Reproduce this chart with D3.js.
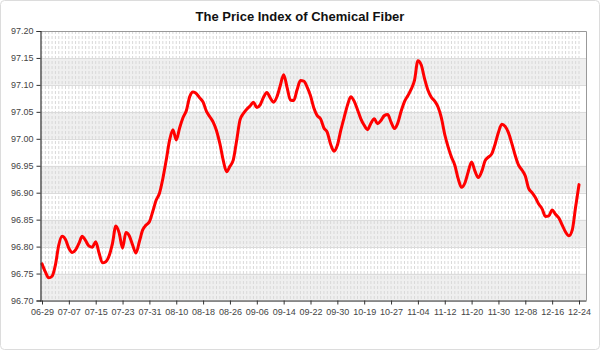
<!DOCTYPE html>
<html>
<head>
<meta charset="utf-8">
<script src="https://cdn.jsdelivr.net/npm/d3@7"></script>
<style>
    body { margin: 0; background: #fff; }
    svg { display: block; font-family: "Liberation Sans", Arial, sans-serif; }
</style>
</head>
<body>
<div id="chart"></div>
<script>
// daily index values, one per trading day
const values = [
    96.768, 96.753, 96.742, 96.745, 96.766, 96.803, 96.819, 96.813, 96.797, 96.789,
    96.794, 96.806, 96.819, 96.811, 96.801, 96.799, 96.809, 96.788, 96.770, 96.772,
    96.783, 96.806, 96.838, 96.825, 96.797, 96.826, 96.820, 96.803, 96.788, 96.809,
    96.831, 96.840, 96.846, 96.865, 96.886, 96.899, 96.926, 96.960, 96.997, 97.017,
    96.998, 97.020, 97.039, 97.052, 97.078, 97.087, 97.084, 97.076, 97.068, 97.051,
    97.041, 97.031, 97.015, 96.991, 96.960, 96.939, 96.949, 96.961, 96.997, 97.035,
    97.047, 97.055, 97.061, 97.068, 97.058, 97.063, 97.077, 97.086, 97.076, 97.068,
    97.078, 97.099, 97.119, 97.096, 97.072, 97.071, 97.091, 97.108, 97.107, 97.096,
    97.080, 97.057, 97.043, 97.037, 97.020, 97.012, 96.990, 96.977, 96.988, 97.015,
    97.039, 97.062, 97.078, 97.070, 97.054, 97.037, 97.025, 97.017, 97.029, 97.037,
    97.028, 97.034, 97.043, 97.045, 97.031, 97.019, 97.029, 97.051, 97.069, 97.080,
    97.092, 97.109, 97.145, 97.137, 97.111, 97.090, 97.077, 97.070, 97.059, 97.039,
    97.008, 96.985, 96.966, 96.951, 96.926, 96.910, 96.918, 96.939, 96.957, 96.940,
    96.928, 96.939, 96.959, 96.966, 96.972, 96.990, 97.012, 97.027, 97.023, 97.011,
    96.991, 96.969, 96.951, 96.942, 96.931, 96.908, 96.900, 96.891, 96.879, 96.870,
    96.856, 96.857, 96.868, 96.860, 96.853, 96.840, 96.827, 96.820, 96.831, 96.874,
    96.915
];

// labelled dates, one every 8 points
const tickLabels = [
    "06-29", "07-07", "07-15", "07-23", "07-31", "08-10", "08-18", "08-26", "09-06", "09-14",
    "09-22", "09-30", "10-19", "10-27", "11-04", "11-12", "11-20", "11-30", "12-08", "12-16", "12-24"
];
const tickStep = 8;

const yTicks = [96.70, 96.75, 96.80, 96.85, 96.90, 96.95, 97.00, 97.05, 97.10, 97.15, 97.20];

const width = 600;
const height = 350;
const plot = { left: 40, right: 586, top: 31, bottom: 300.5 };

const svg = d3.select("#chart")
    .append("svg")
    .attr("width", width)
    .attr("height", height);

// outer frame
svg.append("rect")
    .attr("x", 0.5).attr("y", 0.5)
    .attr("width", width - 1).attr("height", height - 1)
    .attr("rx", 4)
    .attr("fill", "#fff")
    .attr("stroke", "#dcdcdc");

const x = d3.scaleLinear()
    .domain([0, values.length - 1])
    .range([42, 579]);

const y = d3.scaleLinear()
    .domain([96.70, 97.20])
    .range([plot.bottom, plot.top]);

// alternating bands
const bands = yTicks.slice(0, -1).filter((d, i) => i % 2 === 0);
svg.append("g")
    .selectAll("rect")
    .data(bands)
    .enter()
    .append("rect")
    .attr("x", plot.left)
    .attr("width", plot.right - plot.left)
    .attr("y", d => y(d + 0.05))
    .attr("height", d => y(d) - y(d + 0.05))
    .attr("fill", "#efefef");

// horizontal grid
svg.append("g")
    .selectAll("line")
    .data(yTicks)
    .enter()
    .append("line")
    .attr("x1", plot.left).attr("x2", plot.right)
    .attr("y1", d => Math.round(y(d)) + 0.5)
    .attr("y2", d => Math.round(y(d)) + 0.5)
    .attr("stroke", "#dcdcdc");

// vertical dashed grid, one per point
svg.append("g")
    .selectAll("line")
    .data(d3.range(values.length))
    .enter()
    .append("line")
    .attr("x1", d => x(d)).attr("x2", d => x(d))
    .attr("y1", plot.top).attr("y2", plot.bottom)
    .attr("stroke", "#d9d9d9")
    .attr("stroke-width", 1)
    .attr("stroke-dasharray", "3,2");

// plot border (top, right)
svg.append("path")
    .attr("d", `M${plot.left},${plot.top + 0.5}H${plot.right + 0.5}V${plot.bottom}`)
    .attr("fill", "none")
    .attr("stroke", "#999");

const line = d3.line()
    .x((d, i) => x(i))
    .y(d => y(d))
    .curve(d3.curveMonotoneX);

svg.append("path")
    .datum(values)
    .attr("d", line)
    .attr("fill", "none")
    .attr("stroke", "#ff0000")
    .attr("stroke-width", 3)
    .attr("stroke-linejoin", "round")
    .attr("stroke-linecap", "round");

// y axis
const yAxis = d3.axisLeft(y)
    .tickValues(yTicks)
    .tickFormat(d3.format(".2f"))
    .tickSize(4)
    .tickPadding(3);

const yAxisG = svg.append("g")
    .attr("transform", `translate(${plot.left + 0.5},0)`)
    .call(yAxis);

// x axis
const tickIdx = tickLabels.map((d, i) => i * tickStep);
const xAxis = d3.axisBottom(x)
    .tickValues(tickIdx)
    .tickFormat((d, i) => tickLabels[i])
    .tickSize(4)
    .tickPadding(4);

const xAxisG = svg.append("g")
    .attr("transform", `translate(0,${plot.bottom})`)
    .call(xAxis);

xAxisG.select(".domain").attr("d", `M${plot.left},0.5H${plot.right + 0.5}`);

[xAxisG, yAxisG].forEach(g => {
    g.select(".domain").attr("stroke", "#333").attr("stroke-width", 1.2);
    g.selectAll(".tick line").attr("stroke", "#333");
    g.selectAll("text")
        .style("font-size", "9px")
        .style("font-family", "'Liberation Sans', Arial, sans-serif")
        .attr("fill", "#444");
});

svg.append("text")
    .attr("x", 300)
    .attr("y", 21)
    .attr("text-anchor", "middle")
    .style("font-size", "13px")
    .style("font-weight", "bold")
    .attr("fill", "#111")
    .text("The Price Index of Chemical Fiber");
</script>
</body>
</html>
